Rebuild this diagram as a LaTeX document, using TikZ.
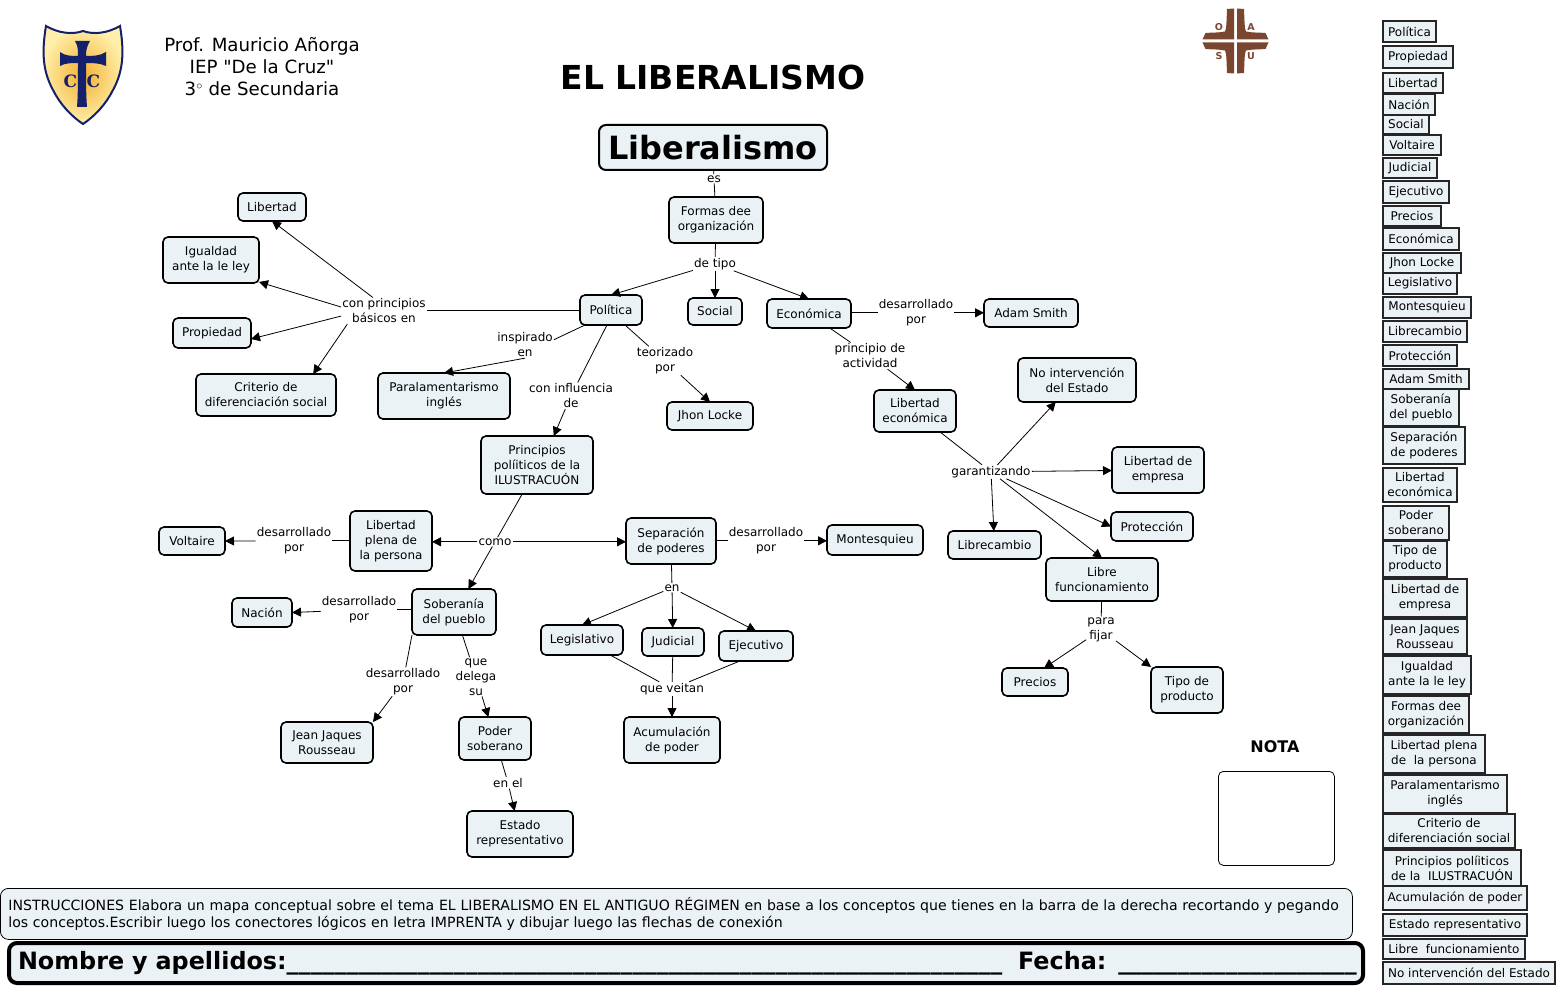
\documentclass[tikz,border=0pt]{standalone}
\usepackage{fontspec}
\setmainfont{DejaVu Sans}
\newfontfamily\plainfont{DejaVu Sans}
\newfontfamily\shieldfont{DejaVu Serif}
\usetikzlibrary{arrows.meta,positioning}
\definecolor{BoxFill}{HTML}{EBF2F5}
\definecolor{ShieldGold}{HTML}{F4B030}
\definecolor{ShieldPale}{HTML}{FFEFAA}
\definecolor{ShieldNavy}{HTML}{14206B}
\definecolor{SealBrown}{HTML}{7A4630}
\newcommand{\sealquarter}{\fill[SealBrown] (-1.5,-1.5) -- (-1.5,-32.5) -- (-8.5,-32) .. controls (-9,-20) and (-9,-12) .. (-10.5,-9.5) .. controls (-18,-8) and (-26,-8.5) .. (-30,-8) -- (-33,-1.5) -- cycle;}

\begin{document}
\begin{tikzpicture}[
        x=1pt,y=-1pt,
        font=\fontsize{12}{15}\selectfont,
        concept/.style={
            rounded corners=5pt,
            draw=black,
            fill=BoxFill,
            line width=1.6pt,
            align=center,
            anchor=north west,
            outer sep=0pt,
            inner sep=0pt
        },
        tag/.style={
            draw=black!85,
            fill=BoxFill,
            line width=2pt,
            align=center,
            anchor=north west,
            outer sep=0pt,
            inner sep=0pt
        },
        sealtext/.style={text=SealBrown, font=\fontsize{9.5}{9.5}\bfseries\selectfont},
        linker/.style={fill=white, inner sep=1pt, align=center, yshift=-0.8pt},
        link/.style={line width=0.8pt, draw=black},
        arrow/.style={-{Triangle[length=9pt,width=9pt]}, line width=0.8pt, draw=black}
    ]
        \useasboundingbox (0,0) rectangle (1558,987);

        % escudo y sello
        \draw[inner color=ShieldGold, outer color=ShieldPale, draw=ShieldNavy, line width=2pt] (46,26) .. controls (58,33) and (72,35) .. (83,31) .. controls (94,35) and (108,33) .. (120,26) .. controls (124,50) and (124,70) .. (113,90) .. controls (106,104) and (95,116) .. (83,124) .. controls (71,116) and (60,104) .. (53,90) .. controls (42,70) and (42,50) .. (46,26) -- cycle;
        \fill[ShieldNavy] (75,41) -- (90,41) .. controls (87,46) and (86,50) .. (86,56) .. controls (92,56) and (100,56) .. (106,52) -- (106,66) .. controls (100,63) and (92,63) .. (86,63) .. controls (86,80) and (86,95) .. (87,107) -- (77,107) .. controls (78,95) and (78,80) .. (78,63) .. controls (72,63) and (65,63) .. (60,66) -- (60,52) .. controls (65,56) and (72,56) .. (78,56) .. controls (78,50) and (78,46) .. (75,41) -- cycle;
        \node[text=ShieldNavy, font=\shieldfont\fontsize{17}{17}\bfseries\selectfont] (shieldC) at (70.5,81) {C};
        \node[text=ShieldNavy, font=\shieldfont\fontsize{17}{17}\bfseries\selectfont] (shieldCC) at (93.5,81) {C};

        \begin{scope}[shift={(1235.5,41)}]
            \sealquarter
        \end{scope}
        \begin{scope}[shift={(1235.5,41)},xscale=-1]
            \sealquarter
        \end{scope}
        \begin{scope}[shift={(1235.5,41)},yscale=-1]
            \sealquarter
        \end{scope}
        \begin{scope}[shift={(1235.5,41)},xscale=-1,yscale=-1]
            \sealquarter
        \end{scope}
        \node[sealtext] (sealO) at (1219,27) {O};
        \node[sealtext] (sealA) at (1251,27) {A};
        \node[sealtext] (sealS) at (1219,56) {S};
        \node[sealtext] (sealU) at (1251,56) {U};

        % cabecera
        \node[align=center, font=\plainfont\fontsize{18.2}{22}\selectfont] (prof) at (262,67) {Prof. Mauricio Añorga\\IEP "De la Cruz"\\3$^\circ$ de Secundaria};
        \node[font=\fontsize{33}{33}\bfseries\selectfont] (title) at (713,77) {EL LIBERALISMO};

        % conceptos
        \node[concept, line width=2pt, rounded corners=7pt, minimum width=228pt, minimum height=45pt, font=\fontsize{32}{32}\bfseries\selectfont] (liberalismo) at (599,125) {Liberalismo};
        \node[concept, minimum width=94pt, minimum height=46pt] (formas) at (669,197) {Formas dee\\organización};
        \node[concept, minimum width=62pt, minimum height=30pt] (politica) at (580,295) {Política};
        \node[concept, minimum width=54pt, minimum height=27pt] (social) at (688,298) {Social};
        \node[concept, minimum width=84pt, minimum height=29pt] (economica) at (767,299) {Económica};
        \node[concept, minimum width=94pt, minimum height=28pt] (adam) at (984,299) {Adam Smith};
        \node[concept, minimum width=68pt, minimum height=28pt] (libertad) at (238,193) {Libertad};
        \node[concept, minimum width=96pt, minimum height=46pt] (igualdad) at (163,237) {Igualdad\\ante la le ley};
        \node[concept, minimum width=78pt, minimum height=30pt] (propiedad) at (173,318) {Propiedad};
        \node[concept, minimum width=140pt, minimum height=42pt] (criterio) at (196,374) {Criterio de\\diferenciación social};
        \node[concept, minimum width=132pt, minimum height=46pt] (parlamento) at (378,373) {Paralamentarismo\\inglés};
        \node[concept, minimum width=86pt, minimum height=28pt] (locke) at (667,402) {Jhon Locke};
        \node[concept, minimum width=82pt, minimum height=42pt] (libeco) at (874,390) {Libertad\\económica};
        \node[concept, minimum width=118pt, minimum height=44pt] (nointer) at (1018,358) {No intervención\\del Estado};
        \node[concept, minimum width=92pt, minimum height=46pt] (empresa) at (1112,447) {Libertad de\\empresa};
        \node[concept, minimum width=82pt, minimum height=29pt] (proteccion) at (1111,512) {Protección};
        \node[concept, minimum width=93pt, minimum height=28pt] (librecambio) at (948,531) {Librecambio};
        \node[concept, minimum width=112pt, minimum height=43pt] (librefun) at (1046,558) {Libre\\funcionamiento};
        \node[concept, minimum width=66pt, minimum height=28pt] (precios) at (1002,668) {Precios};
        \node[concept, minimum width=72pt, minimum height=46pt] (producto) at (1151,667) {Tipo de\\producto};
        \node[concept, minimum width=112pt, minimum height=58pt] (principios) at (481,436) {Principios\\políiticos de la\\ILUSTRACUÓN};
        \node[concept, minimum width=82pt, minimum height=60pt] (plena) at (350,511) {Libertad\\plena de\\la persona};
        \node[concept, minimum width=66pt, minimum height=28pt] (voltaire) at (159,527) {Voltaire};
        \node[concept, minimum width=90pt, minimum height=46pt] (separacion) at (626,518) {Separación\\de poderes};
        \node[concept, minimum width=96pt, minimum height=30pt] (montesquieu) at (827,525) {Montesquieu};
        \node[concept, minimum width=82pt, minimum height=30pt] (legislativo) at (541,625) {Legislativo};
        \node[concept, minimum width=62pt, minimum height=28pt] (judicial) at (642,628) {Judicial};
        \node[concept, minimum width=74pt, minimum height=30pt] (ejecutivo) at (719,631) {Ejecutivo};
        \node[concept, minimum width=96pt, minimum height=46pt] (acumulacion) at (624,717) {Acumulación\\de poder};
        \node[concept, minimum width=84pt, minimum height=46pt] (soberania) at (412,589) {Soberanía\\del pueblo};
        \node[concept, minimum width=60pt, minimum height=29pt] (nacion) at (232,598) {Nación};
        \node[concept, minimum width=92pt, minimum height=41pt] (jean) at (281,722) {Jean Jaques\\Rousseau};
        \node[concept, minimum width=72pt, minimum height=43pt] (poder) at (459,717) {Poder\\soberano};
        \node[concept, minimum width=106pt, minimum height=46pt] (estado) at (467,811) {Estado\\representativo};

        % frases de enlace
        \node[linker] (es) at (714,178) {es};
        \node[linker] (detipo) at (715,263) {de tipo};
        \node[linker] (basicos) at (384,310) {con principios\\básicos en};
        \node[linker] (inspirado) at (525,344) {inspirado\\en};
        \node[linker] (teorizado) at (665,360) {teorizado\\por};
        \node[linker] (influencia) at (571,395) {con influencia\\de};
        \node[linker] (desAdam) at (916,312) {desarrollado\\por};
        \node[linker] (actividad) at (870,355) {principio de\\actividad};
        \node[linker] (garantizando) at (991,471) {garantizando};
        \node[linker] (fijar) at (1101,629) {para\\fijar};
        \node[linker] (como) at (495,541) {como};
        \node[linker] (desVoltaire) at (294,540) {desarrollado\\por};
        \node[linker] (desMontesquieu) at (766,540) {desarrollado\\por};
        \node[linker] (en) at (672,587) {en};
        \node[linker] (veitan) at (672,688) {que veitan};
        \node[linker] (desNacion) at (359,609) {desarrollado\\por};
        \node[linker] (desJean) at (403,681) {desarrollado\\por};
        \node[linker] (delega) at (476,676) {que\\delega\\su};
        \node[linker] (enel) at (508,782) {en el};

        % conectores
        \draw[link] (liberalismo) -- (es);
        \draw[link] (es) -- (formas);
        \draw[link] (formas) -- (detipo);
        \draw[arrow] (detipo) -- (politica.north);
        \draw[arrow] (detipo) -- (social);
        \draw[arrow] (detipo) -- (economica.north);
        \draw[link] (politica.west) -- (basicos.east |- politica.west);
        \draw[arrow] (basicos.130) -- (libertad.south);
        \draw[arrow] (basicos.175) -- (igualdad.east |- 0,282);
        \draw[arrow] (basicos.187) -- (propiedad.east |- 0,339);
        \draw[arrow] (basicos.200) -- (criterio.24);
        \draw[link] (politica.210) -- (inspirado.10);
        \draw[arrow] (inspirado.south) -- (parlamento.north);
        \draw[link] (politica.313) -- (teorizado);
        \draw[arrow] (teorizado) -- (locke.north);
        \draw[link] (politica.255) -- (influencia);
        \draw[arrow] (influencia) -- (principios.60);
        \draw[link] (principios.243) -- (como);
        \draw[arrow] (como) -- (plena.east |- como);
        \draw[arrow] (como) -- (separacion.west |- como);
        \draw[arrow] (como) -- (soberania.58);
        \draw[link] (plena.west |- desVoltaire) -- (desVoltaire);
        \draw[arrow] (desVoltaire) -- (voltaire.east);
        \draw[link] (separacion.east |- desMontesquieu) -- (desMontesquieu);
        \draw[arrow] (desMontesquieu) -- (montesquieu.west |- desMontesquieu);
        \draw[link] (separacion) -- (en);
        \draw[arrow] (en) -- (legislativo.north);
        \draw[arrow] (en) -- (judicial);
        \draw[arrow] (en) -- (ejecutivo.north);
        \draw[link] (legislativo.332) -- (veitan);
        \draw[link] (judicial) -- (veitan);
        \draw[link] (ejecutivo.223) -- (veitan);
        \draw[arrow] (veitan) -- (acumulacion);
        \draw[link] (soberania.west |- desNacion) -- (desNacion);
        \draw[arrow] (desNacion) -- (nacion.east);
        \draw[link] (soberania.south west) -- (desJean);
        \draw[arrow] (desJean) -- (jean.north east);
        \draw[link] (soberania.290) -- (delega);
        \draw[arrow] (delega) -- (poder);
        \draw[link] (poder) -- (enel);
        \draw[arrow] (enel) -- (estado);
        \draw[link] (economica.east |- desAdam) -- (desAdam);
        \draw[arrow] (desAdam) -- (adam.west |- desAdam);
        \draw[link] (economica.325) -- (actividad);
        \draw[arrow] (actividad) -- (libeco.north);
        \draw[link] (libeco.320) -- (garantizando);
        \draw[arrow] (garantizando) -- (nointer.226);
        \draw[arrow] (garantizando) -- (empresa);
        \draw[arrow] (garantizando) -- (proteccion.west);
        \draw[arrow] (garantizando) -- (librefun.north);
        \draw[arrow] (garantizando) -- (librecambio);
        \draw[link] (librefun) -- (fijar);
        \draw[arrow] (fijar) -- (precios.57);
        \draw[arrow] (fijar) -- (producto.north west);

        % nota e instrucciones
        \node[font=\fontsize{16}{16}\bfseries\selectfont] (nota) at (1275,747) {NOTA};
        \node[draw=black, line width=0.8pt, rounded corners=5pt, anchor=north west, minimum width=116pt, minimum height=94pt] (notaBox) at (1218,771) {};
        \node[draw=black, fill=BoxFill, line width=0.8pt, rounded corners=8pt, anchor=north west, align=left, minimum height=51pt, inner xsep=8pt, inner ysep=0pt, text width=1336pt, font=\fontsize{14.1}{17}\selectfont] (instrucciones) at (0,888) {INSTRUCCIONES Elabora un mapa conceptual sobre el tema EL LIBERALISMO EN EL ANTIGUO RÉGIMEN en base a los conceptos que tienes en la barra de la derecha recortando y pegando\\los conceptos.Escribir luego los conectores lógicos en letra IMPRENTA y dibujar luego las flechas de conexión};
        \node[draw=black, fill=BoxFill, line width=4pt, rounded corners=8pt, anchor=north west, align=left, minimum height=40pt, inner xsep=9pt, inner ysep=0pt, outer sep=0pt, text width=1336pt, font=\fontsize{23.85}{24}\bfseries\selectfont] (nombre) at (9,943) {\mbox{Nombre y apellidos:\_\_\_\_\_\_\_\_\_\_\_\_\_\_\_\_\_\_\_\_\_\_\_\_\_\_\_\_\_\_\_\_\_\_\_\_\_\_\_\_\_\_\_\_\_\_\_\_\_\_\_\_\_\_\_\_\_\_\_\_ \ Fecha: \_\_\_\_\_\_\_\_\_\_\_\_\_\_\_\_\_\_\_\_}};

        % barra de conceptos
        \node[tag, minimum width=53pt, minimum height=21pt] (tagPolitica) at (1383,21) {Política};
        \node[tag, minimum width=70pt, minimum height=22pt] (tagPropiedad) at (1383,46) {Propiedad};
        \node[tag, minimum width=60pt, minimum height=20pt] (tagLibertad) at (1383,73) {Libertad};
        \node[tag, minimum width=52pt, minimum height=21pt] (tagNacion) at (1383,94) {Nación};
        \node[tag, minimum width=46pt, minimum height=19pt] (tagSocial) at (1383,115) {Social};
        \node[tag, minimum width=58pt, minimum height=20pt] (tagVoltaire) at (1383,135) {Voltaire};
        \node[tag, minimum width=54pt, minimum height=20pt] (tagJudicial) at (1383,158) {Judicial};
        \node[tag, minimum width=66pt, minimum height=22pt] (tagEjecutivo) at (1383,181) {Ejecutivo};
        \node[tag, minimum width=58pt, minimum height=20pt] (tagPrecios) at (1383,206) {Precios};
        \node[tag, minimum width=76pt, minimum height=22pt] (tagEconomica) at (1383,228) {Económica};
        \node[tag, minimum width=78pt, minimum height=20pt] (tagLocke) at (1383,253) {Jhon Locke};
        \node[tag, minimum width=74pt, minimum height=21pt] (tagLegislativo) at (1383,273) {Legislativo};
        \node[tag, minimum width=88pt, minimum height=21pt] (tagMontesquieu) at (1383,297) {Montesquieu};
        \node[tag, minimum width=84pt, minimum height=21pt] (tagLibrecambio) at (1383,321) {Librecambio};
        \node[tag, minimum width=74pt, minimum height=21pt] (tagProteccion) at (1383,345) {Protección};
        \node[tag, minimum width=86pt, minimum height=20pt] (tagAdam) at (1383,369) {Adam Smith};
        \node[tag, minimum width=76pt, minimum height=37pt] (tagSoberania) at (1383,389) {Soberanía\\del pueblo};
        \node[tag, minimum width=82pt, minimum height=37pt] (tagSeparacion) at (1383,427) {Separación\\de poderes};
        \node[tag, minimum width=74pt, minimum height=34pt] (tagLibeco) at (1383,468) {Libertad\\económica};
        \node[tag, minimum width=66pt, minimum height=34pt] (tagPoder) at (1383,506) {Poder\\soberano};
        \node[tag, minimum width=64pt, minimum height=36pt] (tagProducto) at (1383,541) {Tipo de\\producto};
        \node[tag, minimum width=84pt, minimum height=38pt] (tagEmpresa) at (1383,579) {Libertad de\\empresa};
        \node[tag, minimum width=84pt, minimum height=35pt] (tagJean) at (1383,619) {Jean Jaques\\Rousseau};
        \node[tag, minimum width=88pt, minimum height=38pt] (tagIgualdad) at (1383,656) {Igualdad\\ante la le ley};
        \node[tag, minimum width=86pt, minimum height=37pt] (tagFormas) at (1383,696) {Formas dee\\organización};
        \node[tag, minimum width=102pt, minimum height=38pt] (tagPlena) at (1383,735) {Libertad plena\\de\ \ la persona};
        \node[tag, minimum width=124pt, minimum height=38pt] (tagParlamento) at (1383,775) {Paralamentarismo\\inglés};
        \node[tag, minimum width=132pt, minimum height=34pt] (tagCriterio) at (1383,814) {Criterio de\\diferenciación social};
        \node[tag, minimum width=138pt, minimum height=36pt] (tagPrincipios) at (1383,850) {Principios políiticos\\de la\ \ ILUSTRACUÓN};
        \node[tag, minimum width=144pt, minimum height=24pt] (tagAcumulacion) at (1383,886) {Acumulación de poder};
        \node[tag, minimum width=144pt, minimum height=22pt] (tagEstado) at (1383,914) {Estado representativo};
        \node[tag, minimum width=142pt, minimum height=20pt] (tagLibre) at (1383,939) {Libre\ \ funcionamiento};
        \node[tag, minimum width=172pt, minimum height=22pt] (tagNointer) at (1383,962) {No intervención del Estado};
    \end{tikzpicture}
\end{document}
